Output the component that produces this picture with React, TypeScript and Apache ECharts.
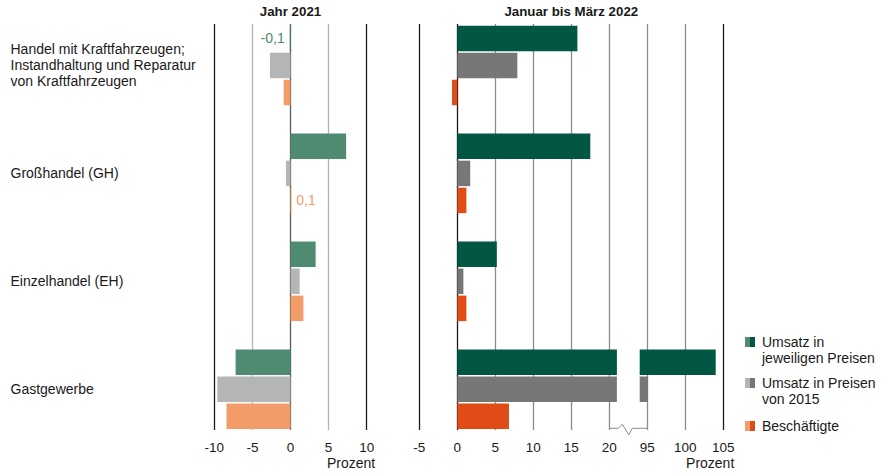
import React, { useEffect, useRef } from "react";
import * as echarts from "echarts";

// ---------- data ----------
const categories = [
  "Handel mit Kraftfahrzeugen;\nInstandhaltung und Reparatur\nvon Kraftfahrzeugen",
  "Großhandel (GH)",
  "Einzelhandel (EH)",
  "Gastgewerbe",
];
const seriesNames = [
  "Umsatz in\njeweiligen Preisen",
  "Umsatz in Preisen\nvon 2015",
  "Beschäftigte",
];
const year2021Nominal = [-0.1, 7.3, 3.3, -7.2];
const year2021Real = [-2.7, -0.6, 1.2, -9.6];
const year2021Employees = [-0.9, 0.1, 1.7, -8.4];
const q1Nominal = [15.8, 17.5, 5.2, 104.0];
const q1Real = [7.9, 1.7, 0.8, 95.1];
const q1Employees = [-0.7, 1.2, 1.2, 6.8];
const leftTicks = [-10, -5, 0, 5, 10];
const rightTicks = [-5, 0, 5, 10, 15, 20, 95, 100, 105];
const panelTitles = ["Jahr 2021", "Januar bis März 2022"];
const unitLabel = "Prozent";

// axis break: values between BREAK_FROM and BREAK_TO are cut out
const BREAK_FROM = 21;
const BREAK_TO = 94;
const BREAK_SHIFT = 70; // 95 is drawn where 25 would be

// ---------- styles / layout ----------
const FONT = "Liberation Sans, Arial, Helvetica, sans-serif";
const lightColors = ["#4f8b70", "#b4b5b7", "#f29d69"];
const darkColors = ["#015741", "#777777", "#e04b16"];
const TEXT = "#1a1a1a";

const LEFT_X = 214.3;
const LEFT_W = 152.4;
const RIGHT_X = 419.3;
const RIGHT_W = 304;
const BAR_TOP = 11.5;
const BAR_H = 431.7;
const LINE_TOP = 24;
const LINE_BOTTOM = 430;
const BAR_WIDTH = 25.5;
const BAR_GAP = "6%";

const fmtDe = (v: number) => String(v).replace(".", ",");

function toDisplay(t: number) {
  return t >= BREAK_TO ? t - BREAK_SHIFT : t;
}

function leftSeries(name: string, values: number[], idx: number) {
  return {
    type: "bar",
    name,
    xAxisIndex: 0,
    yAxisIndex: 0,
    barWidth: BAR_WIDTH,
    barGap: BAR_GAP,
    itemStyle: { color: lightColors[idx] },
    data: values.map((v) =>
      Math.abs(v) < 0.5
        ? {
            value: v,
            label: {
              show: true,
              position: v < 0 ? "left" : "right",
              distance: 5,
              formatter: () => fmtDe(v),
              color: lightColors[idx],
              fontSize: 14,
              fontFamily: FONT,
            },
          }
        : v
    ),
  };
}

function rightSeries(name: string, values: number[], idx: number) {
  const stack = "s" + idx;
  const base = values.map((v) => (v > BREAK_FROM ? BREAK_FROM : v));
  const gap = values.map((v) =>
    v >= BREAK_TO ? BREAK_TO - BREAK_SHIFT - BREAK_FROM : "-"
  );
  const top = values.map((v) => (v >= BREAK_TO ? v - BREAK_TO : "-"));
  const common = {
    type: "bar",
    xAxisIndex: 1,
    yAxisIndex: 1,
    stack,
    barWidth: BAR_WIDTH,
    barGap: BAR_GAP,
  };
  return [
    { ...common, name, itemStyle: { color: darkColors[idx] }, data: base },
    { ...common, name: name + " gap", itemStyle: { color: "rgba(0,0,0,0)" }, data: gap },
    { ...common, name: name + " top", itemStyle: { color: darkColors[idx] }, data: top },
  ];
}

export default function App() {
  const ref = useRef<HTMLDivElement>(null);
  useEffect(() => {
    if (!ref.current) return;
    const chart = echarts.init(ref.current, undefined, { renderer: "svg" });

    const pxPerUnitRight = RIGHT_W / 40;
    const x20 = RIGHT_X + (20 - -5) * pxPerUnitRight;
    const x95 = RIGHT_X + (toDisplay(95) - -5) * pxPerUnitRight;
    const by = LINE_BOTTOM - 1.7;

    const legendX = 745;
    const legendRows = [342, 383, 426];

    const graphic: any[] = [
      {
        type: "text",
        x: LEFT_X + LEFT_W / 2,
        y: 11,
        style: {
          text: panelTitles[0],
          align: "center",
          verticalAlign: "middle",
          font: `bold 13.3px ${FONT}`,
          fill: TEXT,
        },
      },
      {
        type: "text",
        x: RIGHT_X + RIGHT_W / 2,
        y: 11,
        style: {
          text: panelTitles[1],
          align: "center",
          verticalAlign: "middle",
          font: `bold 13.3px ${FONT}`,
          fill: TEXT,
        },
      },
      {
        type: "text",
        x: LEFT_X + LEFT_W + 8.5,
        y: 463,
        style: {
          text: unitLabel,
          align: "right",
          verticalAlign: "middle",
          font: `14px ${FONT}`,
          fill: TEXT,
        },
      },
      {
        type: "text",
        x: RIGHT_X + RIGHT_W + 11,
        y: 463,
        style: {
          text: unitLabel,
          align: "right",
          verticalAlign: "middle",
          font: `14px ${FONT}`,
          fill: TEXT,
        },
      },
      {
        type: "polyline",
        shape: {
          points: [
            [x20, by],
            [x20 + 9, by],
            [x20 + 13, by - 4],
            [x20 + 19.5, by + 6.5],
            [x20 + 23, by],
            [x95, by],
          ],
        },
        style: { stroke: "#8a8a8a", lineWidth: 1, fill: "none" },
      },
    ];
    seriesNames.forEach((name, i) => {
      const cy = legendRows[i];
      graphic.push(
        {
          type: "rect",
          shape: { x: legendX, y: cy - 5, width: 5, height: 10 },
          style: { fill: lightColors[i] },
        },
        {
          type: "rect",
          shape: { x: legendX + 5, y: cy - 5, width: 5, height: 10 },
          style: { fill: darkColors[i] },
        },
        {
          type: "text",
          x: 762,
          y: cy - 8,
          style: {
            text: name,
            align: "left",
            verticalAlign: "top",
            font: `14px ${FONT}`,
            lineHeight: 16.3,
            fill: TEXT,
          },
        }
      );
    });

    const leftLineColors = ["#1a1a1a", "#b3b3b3", "#5a5a5a", "#b3b3b3", "#1a1a1a"];
    const rightLineColors = [
      "#1a1a1a",
      "#1a1a1a",
      "#8c8c8c",
      "#8c8c8c",
      "#8c8c8c",
      "#8c8c8c",
      "#8c8c8c",
      "#8c8c8c",
      "#1a1a1a",
    ];

    const option: any = {
      animation: false,
      textStyle: { fontFamily: FONT },
      grid: [
        { left: LEFT_X, top: BAR_TOP, width: LEFT_W, height: BAR_H },
        { left: RIGHT_X, top: BAR_TOP, width: RIGHT_W, height: BAR_H },
        { left: LEFT_X, top: LINE_TOP, width: LEFT_W, height: LINE_BOTTOM - LINE_TOP },
        { left: RIGHT_X, top: LINE_TOP, width: RIGHT_W, height: LINE_BOTTOM - LINE_TOP },
      ],
      xAxis: [
        { type: "value", gridIndex: 0, min: leftTicks[0], max: leftTicks[leftTicks.length - 1], show: false },
        { type: "value", gridIndex: 1, min: toDisplay(rightTicks[0]), max: toDisplay(rightTicks[rightTicks.length - 1]), show: false },
        {
          type: "value",
          gridIndex: 2,
          min: leftTicks[0],
          max: leftTicks[leftTicks.length - 1],
          interval: leftTicks[1] - leftTicks[0],
          axisLine: { show: false },
          axisTick: { show: false },
          axisLabel: { color: TEXT, fontSize: 13.5, margin: 10, fontFamily: FONT },
          splitLine: { show: true, lineStyle: { color: leftLineColors, width: 1.3 } },
        },
        {
          type: "value",
          gridIndex: 3,
          min: toDisplay(rightTicks[0]),
          max: toDisplay(rightTicks[rightTicks.length - 1]),
          interval: 5,
          axisLine: { show: false },
          axisTick: { show: false },
          axisLabel: {
            color: TEXT,
            fontSize: 13.5,
            margin: 10,
            fontFamily: FONT,
            formatter: (v: number) => {
              const t = rightTicks.find((r) => Math.abs(toDisplay(r) - v) < 1e-6);
              return t === undefined ? "" : String(t);
            },
          },
          splitLine: { show: true, lineStyle: { color: rightLineColors, width: 1.3 } },
        },
      ],
      yAxis: [
        {
          type: "category",
          gridIndex: 0,
          inverse: true,
          data: categories,
          axisLine: { show: false },
          axisTick: { show: false },
          splitLine: { show: false },
          axisLabel: {
            align: "left",
            margin: LEFT_X - 10.5,
            color: TEXT,
            fontSize: 14,
            lineHeight: 16,
            fontFamily: FONT,
          },
        },
        { type: "category", gridIndex: 1, inverse: true, data: categories, show: false },
        { type: "value", gridIndex: 2, min: 0, max: 1, show: false },
        { type: "value", gridIndex: 3, min: 0, max: 1, show: false },
      ],
      series: [
        leftSeries(seriesNames[0], year2021Nominal, 0),
        leftSeries(seriesNames[1], year2021Real, 1),
        leftSeries(seriesNames[2], year2021Employees, 2),
        ...rightSeries(seriesNames[0], q1Nominal, 0),
        ...rightSeries(seriesNames[1], q1Real, 1),
        ...rightSeries(seriesNames[2], q1Employees, 2),
      ],
      graphic,
    };
    chart.setOption(option);
    return () => chart.dispose();
  }, []);

  return (
    <div
      ref={ref}
      style={{ position: "fixed", left: 0, top: 0, width: 882, height: 475, background: "#fff" }}
    />
  );
}
